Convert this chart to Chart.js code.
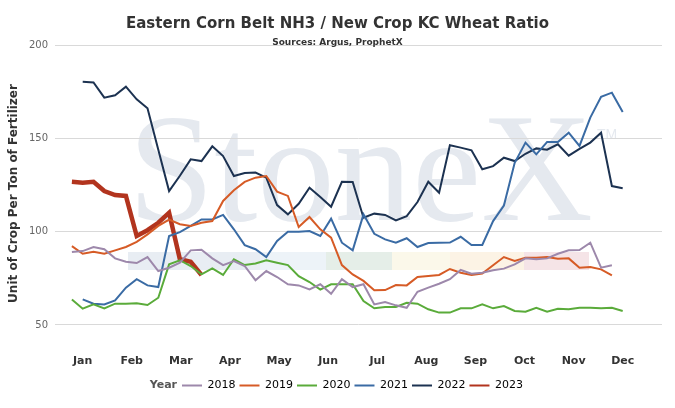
<!DOCTYPE html>
<html>
<head>
<meta charset="utf-8">
<script src="https://cdn.jsdelivr.net/npm/chart.js@4.4.1/dist/chart.umd.min.js"></script>
<style>
  html, body { margin: 0; padding: 0; background: #fff; }
  #wrap { width: 675px; height: 408px; }
</style>
</head>
<body>
<div id="wrap"><canvas id="ratioChart"></canvas></div>
<script>
// week index along the season, 0..51
const weeks = [0,1,2,3,4,5,6,7,8,9,10,11,12,13,14,15,16,17,18,19,20,21,22,23,24,25,
  26,27,28,29,30,31,32,33,34,35,36,37,38,39,40,41,42,43,44,45,46,47,48,49,50,51];
const months = ['Jan','Feb','Mar','Apr','May','Jun','Jul','Aug','Sep','Oct','Nov','Dec'];
const yTicks = [50, 100, 150, 200];
const years = ['2018', '2019', '2020', '2021', '2022', '2023'];

const ratio2018 = [89.1,89.6,91.8,90.6,85.7,83.9,83.2,86.4,78.9,80.7,83.4,90.0,90.3,85.7,82.1,84.3,
  81.6,74.0,78.9,75.7,71.8,71.2,69.1,71.8,66.7,74.5,70.3,71.8,61.0,62.3,60.5,59.2,67.8,70.0,72.1,
  74.5,79.5,77.5,78.0,79.3,80.2,82.5,85.7,85.2,85.7,88.2,90.0,90.2,94.1,80.7,82.0];
const ratio2019 = [92.3,88.2,89.3,88.2,90.0,91.8,94.6,98.6,103.1,106.5,104.0,103.1,104.8,105.7,116.5,
  122.2,126.7,129.0,129.9,121.5,119.2,102.5,107.9,101.3,96.8,82.1,77.1,73.6,68.6,68.7,71.4,71.2,
  75.7,76.2,76.8,80.0,78.0,76.8,77.5,82.0,86.4,84.3,86.1,86.1,86.4,85.5,85.7,80.7,81.1,79.8,76.6];
const ratio2020 = [63.7,58.7,61.0,58.9,61.4,61.4,61.6,60.7,64.6,82.5,84.7,81.6,77.1,80.3,76.8,85.2,
  82.1,83.0,84.7,83.4,82.1,76.2,73.0,68.9,71.8,71.8,71.8,62.8,58.9,59.6,59.6,61.9,61.4,58.4,56.6,
  56.6,58.9,58.9,61.0,58.9,60.1,57.5,57.1,59.2,57.1,58.7,58.4,59.2,59.2,58.9,59.2,57.5];
const ratio2021 = [null,63.7,61.4,61.0,63.2,70.0,74.5,71.2,70.3,97.7,99.8,103.1,106.6,106.6,109.0,
  101.3,92.8,90.6,86.4,95.0,100.0,100.0,100.4,97.7,107.0,94.1,90.0,109.3,98.9,95.9,94.1,96.5,91.8,
  93.9,94.1,94.2,97.3,92.9,92.9,105.7,114.0,137.0,147.8,141.5,148.1,148.1,153.1,146.0,161.2,172.4,
  174.6,164.2];
const ratio2022 = [null,180.5,180.1,171.9,173.2,177.8,171.0,166.2,144.0,121.8,130.0,138.8,137.9,145.8,
  140.6,129.9,131.5,131.7,129.0,114.3,109.3,115.0,123.6,118.6,113.4,126.8,126.7,107.5,109.7,109.0,
  106.1,108.4,115.9,126.8,120.9,146.4,145.1,143.7,133.5,135.2,139.7,137.9,141.8,144.7,144.0,146.9,
  140.8,144.4,147.8,153.1,124.5,123.3];
const ratio2023 = [126.8,126.3,126.8,121.8,119.7,119.2,97.7,100.8,104.8,110.2,85.2,83.9,76.8];

const seriesValues = [ratio2018, ratio2019, ratio2020, ratio2021, ratio2022, ratio2023];
const seriesColors = ['#9d88ab', '#d65b26', '#5aab3a', '#3a6ba4', '#1c3251', '#b2341e'];
const seriesWidths = [2, 2, 2, 2, 2, 4.5];

const FONT = "'DejaVu Sans', sans-serif";

// pale StoneX mark behind the lines
const watermark = {
  id: 'watermark',
  beforeDraw(chart) {
    const ctx = chart.ctx;
    ctx.save();
    const bands = [
      [128, 260, '#e8edf3'], [260, 326, '#edf3f8'], [326, 392, '#e5eee8'],
      [392, 450, '#fbf8ea'], [450, 524, '#fcf3e5'], [524, 589, '#f5e4e7']
    ];
    bands.forEach(b => {
      ctx.fillStyle = b[2];
      ctx.fillRect(b[0], 252, b[1] - b[0], 18);
    });
    ctx.fillStyle = '#e5e9ef';
    ctx.font = "155px 'Liberation Serif', serif";
    ctx.textBaseline = 'alphabetic';
    ctx.fillText('StoneX', 128, 220);
    ctx.font = "14px 'Liberation Sans', sans-serif";
    ctx.fillText('TM', 597, 139);
    ctx.restore();
  }
};

// legend starts after an inline "Year" caption
const legendCaption = {
  id: 'legendCaption',
  afterLayout(chart) {
    const lg = chart.legend;
    lg.left = 182 - lg.options.labels.padding;
  },
  afterDraw(chart) {
    const lg = chart.legend;
    const ctx = chart.ctx;
    ctx.save();
    ctx.font = 'bold 11px ' + FONT;
    ctx.fillStyle = '#555';
    ctx.textAlign = 'right';
    ctx.textBaseline = 'middle';
    ctx.fillText('Year', 177, lg.top + lg.options.labels.padding + 5.5);
    ctx.restore();
  }
};

const datasets = years.map((yr, k) => ({
  label: yr,
  data: seriesValues[k].map((v, i) => ({ x: weeks[i], y: v })),
  borderColor: seriesColors[k],
  backgroundColor: seriesColors[k],
  borderWidth: seriesWidths[k],
  pointRadius: 0,
  tension: 0,
  fill: false
}));

new Chart(document.getElementById('ratioChart'), {
  type: 'line',
  data: { datasets: datasets },
  plugins: [watermark, legendCaption],
  options: {
    responsive: true,
    maintainAspectRatio: false,
    animation: false,
    layout: { padding: { left: 0, right: 0, top: 0, bottom: 7 } },
    plugins: {
      title: {
        display: true,
        text: 'Eastern Corn Belt NH3 / New Crop KC Wheat Ratio',
        color: '#333',
        font: { family: FONT, size: 15, weight: 'bold' },
        padding: { top: 15, bottom: 0 }
      },
      subtitle: {
        display: true,
        text: 'Sources: Argus, ProphetX',
        color: '#333',
        font: { family: FONT, size: 9, weight: 'bold' },
        padding: { top: 4, bottom: -2.5 }
      },
      legend: {
        position: 'bottom',
        align: 'start',
        labels: {
          boxWidth: 20,
          boxHeight: 2,
          padding: 4,
          color: '#666',
          font: { family: FONT, size: 11 },
          generateLabels(chart) {
            return chart.data.datasets.map((ds, i) => ({
              text: ds.label,
              fillStyle: ds.borderColor,
              strokeStyle: ds.borderColor,
              lineWidth: 0,
              hidden: false,
              datasetIndex: i
            }));
          }
        }
      },
      tooltip: { enabled: false }
    },
    scales: {
      x: {
        type: 'linear',
        min: -1.565,
        max: 54.64,
        grid: { display: false, drawTicks: false },
        border: { display: false },
        afterBuildTicks(axis) {
          axis.ticks = months.map((m, k) => ({ value: 1 + k * 50 / 11 }));
        },
        afterFit(axis) { axis.height = 34.3; },
        ticks: {
          autoSkip: false,
          maxRotation: 0,
          padding: 13,
          color: '#333',
          font: { family: FONT, size: 11, weight: 'bold' },
          callback: (v, i) => months[i]
        }
      },
      y: {
        min: 41,
        max: 200,
        afterBuildTicks(axis) {
          axis.ticks = yTicks.map(v => ({ value: v }));
        },
        afterFit(axis) { axis.width = 55; },
        grid: { color: '#d9d9d9', drawTicks: false },
        border: { display: false },
        ticks: {
          padding: 7,
          color: '#666',
          font: { family: FONT, size: 10 }
        },
        title: {
          display: true,
          text: 'Unit of Crop Per Ton of Fertilizer',
          color: '#333',
          font: { family: FONT, size: 12, weight: 'bold' },
          padding: { top: 7, bottom: 0 }
        }
      },
      // empty right-hand gutter so the plot stops short of the edge
      yRight: {
        position: 'right',
        min: 41,
        max: 200,
        grid: { display: false, drawTicks: false },
        border: { display: false },
        ticks: { display: false },
        afterFit(axis) { axis.width = 13; }
      }
    }
  }
});
</script>
</body>
</html>
